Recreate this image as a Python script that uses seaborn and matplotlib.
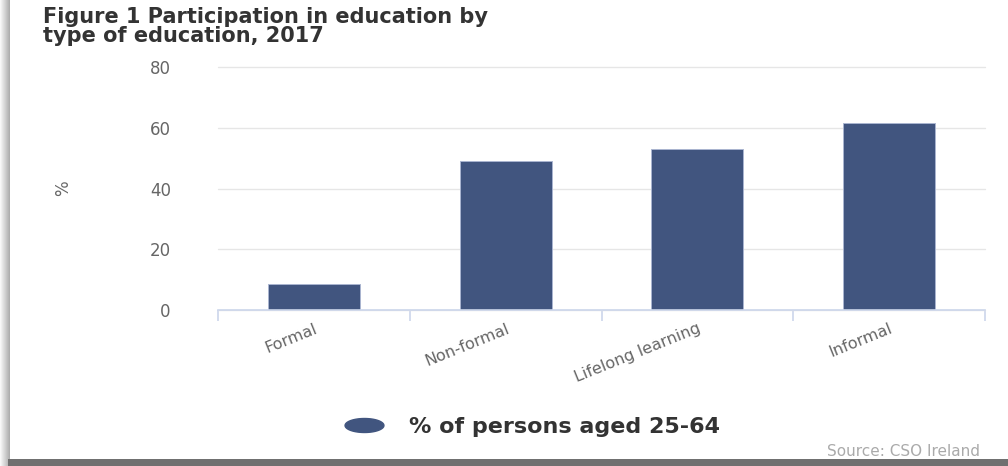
import numpy as np
import pandas as pd
import matplotlib
matplotlib.use("Agg")
import matplotlib.pyplot as plt
from matplotlib.lines import Line2D
from matplotlib.path import Path
from matplotlib.patches import Rectangle
import seaborn as sns

# Participation in education by type, 2017 (% of persons aged 25-64)
categories = ["Formal", "Non-formal", "Lifelong learning", "Informal"]
participation = [8.5, 49.2, 53.1, 61.6]
y_ticks = [0, 20, 40, 60, 80]

title_text = "Figure 1 Participation in education by\ntype of education, 2017"
series_name = "% of persons aged 25-64"
source_text = "Source: CSO Ireland"

BAR = "#41557f"
AXIS_LINE = "#ccd6eb"
GRID = "#e6e6e6"
LABEL = "#666666"

sns.set_theme(style="white")
plt.rcParams["font.family"] = ["DejaVu Sans"]

W, H = 1008, 466
fig = plt.figure(figsize=(W / 100, H / 100), dpi=100)
fig.patch.set_facecolor("white")

# plot area in pixel coordinates
left, right, top, bottom = 218, 985, 67, 310
ax = fig.add_axes([left / W, 1 - bottom / H, (right - left) / W, (bottom - top) / H])

df = pd.DataFrame({"category": categories, "value": participation})
sns.barplot(data=df, x="category", y="value", color=BAR, width=0.48,
            edgecolor="#aab5d0", linewidth=0.7, saturation=1, ax=ax)

ax.set_xlim(-0.5, len(categories) - 0.5)
ax.set_ylim(0, 80)
ax.set_yticks(y_ticks)
ax.set_yticklabels([str(t) for t in y_ticks])
ax.yaxis.grid(True, color=GRID, linewidth=1)
ax.set_axisbelow(True)
for gl in ax.get_ygridlines():
    gl.set_clip_on(False)

for s in ("left", "top", "right"):
    ax.spines[s].set_visible(False)
ax.spines["bottom"].set_color(AXIS_LINE)
ax.spines["bottom"].set_linewidth(1.2)

# category labels, and boundary ticks below the axis line
ax.set_xticks(range(len(categories)))
ax.set_xticklabels(categories, rotation=22, ha="right", va="top",
                   rotation_mode="anchor", fontsize=11.5, color=LABEL)
ax.set_xticks(np.arange(-0.5, len(categories)), minor=True)
ax.tick_params(axis="x", which="minor", bottom=True, length=8, width=1.2,
               color=AXIS_LINE, direction="out")
ax.tick_params(axis="x", which="major", bottom=True, length=0, pad=8)
ax.tick_params(axis="y", length=0, pad=34, labelsize=12, labelcolor=LABEL)

ax.set_xlabel("")
ax.set_ylabel("%", fontsize=12, color=LABEL, rotation=90)
ax.yaxis.set_label_coords((72 - left) / (right - left), 0.5)

# title
fig.text(43 / W, 1 - 7 / H, title_text, ha="left", va="top", fontsize=15,
         fontweight="bold", color="#333333", linespacing=0.95)

# legend with an oval marker
theta = np.linspace(0, 2 * np.pi, 60)
oval = Path(np.column_stack([np.cos(theta), 0.36 * np.sin(theta)]), closed=True)
handle = Line2D([], [], linestyle="none", marker=oval, markersize=28,
                markerfacecolor=BAR, markeredgecolor=BAR)
fig.legend([handle], [series_name], loc="center", bbox_to_anchor=(533 / W, 1 - 427 / H),
           frameon=False, handletextpad=1.2, handlelength=1.6,
           prop={"size": 16, "weight": "bold"}, labelcolor="#333333")

# source note
fig.text(980 / W, 1 - 452 / H, source_text, ha="right", va="center",
         fontsize=11, color="#aaaaaa")

# frame shadow: soft gradient on the left edge, dark band along the bottom
shadow_ax = fig.add_axes([0, 0, 10 / W, 1])
grad = np.linspace(0.97, 0.68, 10).reshape(1, -1)
shadow_ax.imshow(np.repeat(grad, 2, axis=0), cmap="gray", vmin=0, vmax=1,
                 aspect="auto", extent=(0, 1, 0, 1))
shadow_ax.set_axis_off()
fig.patches.append(Rectangle((8 / W, 0), 1 - 8 / W, 7 / H, transform=fig.transFigure,
                             facecolor="#707070", edgecolor="none"))

fig.savefig("out.png", dpi=100, facecolor="white")
